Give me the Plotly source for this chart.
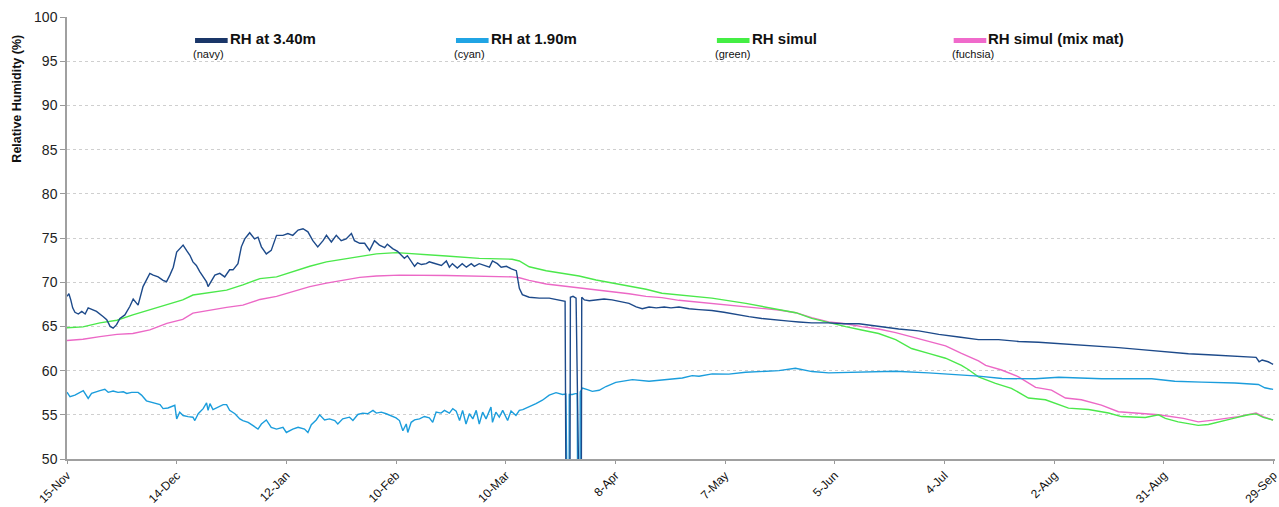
import pandas as pd
import plotly.graph_objects as go

START = "2011-11-15"

# ---- data (day offset from 15-Nov, RH %) ----
navy_day = [0, 0.5, 1.0, 1.5, 2.1, 3.0, 3.9, 4.8, 5.6, 6.5, 7.8, 9.6, 10.5, 11.4, 12.2, 13.1, 14.0, 15.3,
            16.6, 17.5, 18.8, 20.1, 21.9, 22.8, 24.1, 25.4, 26.3, 27.2, 28.1, 29.0, 29.8, 30.7, 31.6, 32.5,
            33.3, 34.2, 35.1, 36.0, 36.9, 37.3, 38.2, 39.1, 40.4, 41.7, 43.0, 43.9, 45.2, 46.1, 47.0, 48.3,
            49.6, 50.5, 51.4, 52.7, 54.0, 55.4, 57.1, 58.4, 59.7, 61.1, 62.4, 63.7, 65.0, 66.3, 67.7, 68.6,
            69.9, 71.2, 72.5, 73.8, 75.2, 76.0, 77.4, 78.7, 80.0, 81.3, 82.6, 84.0, 84.7, 86.1, 87.4, 88.4,
            89.2, 90.0, 91.1, 91.9, 92.7, 93.7, 95.0, 95.8, 96.6, 97.7, 99.0, 100.3, 101.1, 101.9, 103.2,
            104.5, 105.6, 106.9, 107.7, 109.0, 110.4, 111.7, 112.5, 113.8, 114.8, 116.2, 117.5, 118.8, 119.6,
            120.4, 122.2, 124.9, 127.5, 130.2, 131.7, 132.1, 132.9, 133.1, 133.8, 134.6, 135.0, 135.9, 136.1,
            136.8, 138.1, 139.9, 142.0, 144.1, 146.0, 148.6, 150.5, 152.1, 153.9, 155.8, 157.9, 159.7, 161.8,
            164.5, 167.1, 170.5, 173.7, 177.1, 180.3, 183.7, 186.9, 190.9, 193.5, 196.9, 201.4, 205.4, 209.4,
            214.6, 219.9, 225.2, 230.5, 235.8, 241.0, 246.3, 251.6, 256.9, 260.8, 264.8, 268.8, 272.7, 278.0,
            283.3, 288.6, 291.2, 296.5, 301.8, 307.0, 312.3, 314.4, 315.2, 316.0, 317.6, 318.9]
navy_rh = [68.4, 68.7, 68.0, 67.1, 66.6, 66.4, 66.7, 66.4, 67.1, 66.9, 66.7, 66.1, 65.75, 65.0, 64.8, 65.2, 65.9, 66.3,
           67.25, 68.1, 67.4, 69.5, 71.0, 70.8, 70.6, 70.2, 70.05, 70.8, 71.7, 73.4, 73.8, 74.2, 73.6, 73.05,
           72.3, 71.9, 71.2, 70.6, 70.05, 69.5, 70.2, 70.8, 71.0, 70.6, 71.4, 71.4, 72.1, 74.0, 74.9, 75.6,
           74.9, 75.1, 74.0, 73.2, 73.6, 75.3, 75.3, 75.5, 75.3, 75.9, 76.05, 75.7, 74.7, 74.0, 74.7, 75.3,
           74.55, 75.3, 74.7, 74.9, 75.5, 74.7, 74.4, 74.4, 73.6, 74.7, 74.2, 73.9, 74.3, 73.8, 73.5, 73.1,
           72.7, 73.0, 72.3, 71.8, 72.2, 72.0, 72.1, 72.3, 72.2, 72.1, 71.9, 72.4, 71.7, 72.1, 71.6,
           72.1, 71.7, 72.1, 71.8, 72.1, 71.9, 71.7, 72.4, 72.1, 71.7, 71.8, 71.5, 71.3, 69.3,
           68.6, 68.3, 68.2, 68.2, 68.0, 67.85, 30, 30, 68.3, 68.4, 68.2, 30, 30, 68.3,
           68.0, 67.9, 68.0, 68.1, 68.0, 67.8, 67.6, 67.2, 67.0, 67.2, 67.1, 67.2, 67.1, 67.2,
           67.0, 66.9, 66.8, 66.6, 66.3, 66.1, 65.9, 65.8, 65.6, 65.5, 65.4, 65.4, 65.3, 65.3,
           65.0, 64.7, 64.5, 64.1, 63.8, 63.5, 63.5, 63.3, 63.2, 63.1, 63.0, 62.9, 62.8, 62.6,
           62.4, 62.2, 62.1, 61.9, 61.8, 61.7, 61.6, 61.5, 61.0, 61.2, 61.0, 60.7]

cyan_day = [0, 0.8, 2.1, 3.0, 4.3, 5.6, 6.5, 8.7, 10.0, 10.9, 12.2, 13.5, 14.9, 15.8, 17.1, 18.8, 19.7, 21.0,
            22.8, 24.6, 25.4, 26.7, 28.5, 29.0, 29.8, 30.7, 32.0, 33.3, 33.8, 34.7, 36.0, 36.9, 37.3, 37.8,
            38.6, 39.9, 41.3, 42.2, 43.0, 44.4, 45.7, 46.5, 47.9, 49.2, 50.5, 51.4, 52.7, 54.0, 55.4, 57.1,
            58.0, 59.7, 61.1, 62.8, 63.7, 64.6, 65.9, 66.8, 68.1, 69.4, 70.8, 71.6, 72.9, 74.7, 75.6, 76.9,
            78.2, 79.5, 80.9, 81.8, 83.1, 84.4, 85.7, 87.0, 87.9, 88.8, 89.7, 90.1, 91.0, 91.9, 93.2, 94.5,
            95.8, 96.7, 97.6, 98.9, 99.8, 101.1, 102.0, 102.9, 103.8, 104.6, 105.5, 106.4, 107.3, 108.2,
            109.0, 109.9, 110.8, 112.1, 112.5, 113.4, 114.3, 115.2, 116.5, 117.4, 118.7, 119.6, 120.5, 122.2,
            124.0, 125.7, 127.5, 129.3, 131.0, 131.9, 132.3, 132.7, 132.8, 133.6, 134.4, 134.9, 135.2, 135.6,
            135.7, 136.3, 137.6, 138.9, 140.7, 142.5, 145.1, 149.5, 153.9, 158.3, 162.7, 165.3, 167.1, 170.6,
            175.0, 179.4, 188.2, 192.6, 197.0, 201.4, 210.2, 219.0, 227.8, 236.6, 241.0, 247.2, 256.0, 262.2,
            273.6, 286.8, 292.9, 300.0, 308.8, 315.0, 316.7, 318.9]
cyan_rh = [57.55, 57.04, 57.23, 57.42, 57.73, 56.85, 57.42, 57.73, 57.88, 57.54, 57.69, 57.54, 57.6, 57.42, 57.54, 57.54, 57.23, 56.58,
           56.35, 56.15, 55.7, 55.77, 56.08, 54.54, 55.3, 54.92, 54.8, 54.73, 54.35, 55.12, 55.7, 56.35, 55.5, 56.27,
           55.58, 55.88, 56.15, 56.15, 55.5, 55.12, 54.54, 54.35, 54.15, 53.77, 53.38, 53.96, 54.42, 53.58, 53.38, 53.58,
           53.0, 53.38, 53.58, 53.38, 53.0, 53.88, 54.42, 55.0, 54.42, 54.54, 54.35, 53.96, 54.54, 54.73, 54.35, 55.04,
           55.19, 55.12, 55.5, 55.19, 55.3, 55.12, 54.92, 54.65, 54.35, 53.19, 53.96, 53.0, 54.15, 54.42, 54.54, 54.81,
           54.65, 54.15, 55.3, 55.19, 55.5, 55.19, 55.7, 55.42, 54.35, 55.5, 53.96, 55.12, 54.54, 55.5,
           53.96, 55.3, 54.54, 55.88, 54.15, 55.3, 54.73, 55.5, 54.35, 55.42, 54.92, 55.5, 55.58, 55.88,
           56.27, 56.65, 57.23, 57.5, 57.3, 57.35, 30, 30, 57.3, 57.3, 57.4, 57.4, 30, 30,
           57.6, 58.03, 57.84, 57.65, 57.77, 58.2, 58.67, 58.98, 58.8, 58.98, 59.17, 59.43, 59.36, 59.63,
           59.6, 59.81, 60.0, 60.26, 59.89, 59.74, 59.81, 59.93, 59.74, 59.52, 59.37, 59.1, 59.07, 59.25,
           59.07, 59.07, 58.8, 58.7, 58.6, 58.43, 58.06, 57.87]

green_day = [0, 4.2, 8.7, 13.2, 17.4, 21.9, 26.4, 30.6, 33.3, 37.8, 42.2, 46.5, 51.0, 55.4, 59.7, 64.2, 68.6, 72.9,
             77.4, 81.8, 87.1, 91.3, 100.3, 109.0, 117.7, 119.6, 122.2, 126.7, 130.9, 135.4, 139.9, 144.1, 148.6,
             153.1, 157.3, 161.8, 170.5, 179.5, 188.2, 192.7, 196.9, 201.4, 205.9, 210.1, 214.6, 219.1, 223.3,
             227.8, 232.3, 236.5, 238.4, 241.0, 245.5, 249.7, 254.2, 258.7, 261.4, 264.8, 270.1, 275.4, 278.8,
             285.1, 288.6, 290.4, 293.8, 299.1, 301.8, 304.4, 308.4, 312.3, 314.4, 316.3, 318.9]
green_rh = [64.85, 64.95, 65.4, 65.7, 66.3, 66.85, 67.4, 68.0, 68.55, 68.8, 69.1, 69.7, 70.4, 70.6, 71.2, 71.8, 72.3, 72.6,
            72.9, 73.2, 73.34, 73.2, 72.96, 72.7, 72.6, 72.4, 71.75, 71.3, 71.0, 70.7, 70.25, 69.9, 69.5,
            69.2, 68.75, 68.55, 68.2, 67.6, 66.9, 66.55, 65.9, 65.4, 64.97, 64.6, 64.2, 63.5, 62.5,
            61.95, 61.4, 60.6, 60.1, 59.3, 58.56, 58.0, 56.9, 56.7, 56.3, 55.75, 55.6, 55.2, 54.8,
            54.7, 55.0, 54.6, 54.2, 53.8, 53.9, 54.2, 54.6, 55.0, 55.1, 54.7, 54.4]

pink_day = [0, 4.2, 8.7, 13.2, 17.4, 21.9, 26.4, 30.6, 33.3, 37.8, 42.2, 46.5, 51.0, 55.4, 59.7, 64.2, 68.6, 72.9,
            77.4, 81.8, 87.9, 100.3, 109.0, 117.7, 119.6, 122.2, 126.7, 130.9, 135.4, 139.9, 144.1, 148.6,
            153.1, 157.3, 161.8, 170.5, 179.5, 188.2, 192.7, 196.9, 201.4, 205.9, 210.1, 214.6, 219.1, 223.3,
            227.8, 232.3, 236.5, 241.0, 242.9, 247.1, 251.6, 256.1, 260.3, 264.0, 268.2, 273.5, 278.0, 282.5,
            288.6, 295.2, 299.1, 303.1, 309.7, 314.4, 316.3, 318.9]
pink_rh = [63.4, 63.55, 63.85, 64.1, 64.2, 64.6, 65.35, 65.8, 66.5, 66.85, 67.15, 67.4, 68.05, 68.4, 68.9, 69.5, 69.9, 70.2,
           70.55, 70.7, 70.8, 70.75, 70.7, 70.6, 70.5, 70.2, 69.8, 69.6, 69.3, 69.1, 68.9, 68.7,
           68.4, 68.25, 67.95, 67.6, 67.2, 66.85, 66.55, 66.0, 65.5, 65.3, 64.97, 64.7, 64.3, 63.85,
           63.3, 62.8, 61.95, 61.1, 60.6, 60.07, 59.3, 58.1, 57.8, 56.9, 56.7, 56.1, 55.35, 55.2,
           55.0, 54.6, 54.2, 54.4, 54.8, 55.2, 54.8, 54.4]

series_names = ["RH at 3.40m", "RH at 1.90m", "RH simul", "RH simul (mix mat)"]
series_notes = ["(navy)", "(cyan)", "(green)", "(fuchsia)"]
y_ticks = [50, 55, 60, 65, 70, 75, 80, 85, 90, 95, 100]

line_colors = ["#1d4a8a", "#1b9ddc", "#4be84b", "#ec68c6"]
swatch_colors = ["#1a3668", "#20a4e4", "#44ee44", "#f06acb"]


def to_dates(days):
    return pd.Timestamp(START) + pd.to_timedelta(days, unit="D")


fig = go.Figure()
for days, vals, name, col in [
    (pink_day, pink_rh, series_names[3], line_colors[3]),
    (green_day, green_rh, series_names[2], line_colors[2]),
    (cyan_day, cyan_rh, series_names[1], line_colors[1]),
    (navy_day, navy_rh, series_names[0], line_colors[0]),
]:
    fig.add_trace(go.Scatter(x=to_dates(days), y=vals, mode="lines", name=name,
                             line=dict(color=col, width=1.4), showlegend=False))

FONT = "Liberation Sans, Arial, sans-serif"

# custom legend (line swatch + bold label + small colour note)
leg_x = [0.106, 0.322, 0.538, 0.734]
sw_w = 0.027
for i in range(4):
    x0 = leg_x[i]
    fig.add_shape(type="line", xref="paper", yref="paper", x0=x0, x1=x0 + sw_w, y0=0.947, y1=0.947,
                  line=dict(color=swatch_colors[i], width=5))
    fig.add_annotation(xref="paper", yref="paper", x=x0 + sw_w, y=0.952, xanchor="left", yanchor="middle",
                       text="<b>" + series_names[i] + "</b>", showarrow=False,
                       font=dict(family=FONT, size=15, color="#111"))
    fig.add_annotation(xref="paper", yref="paper", x=x0 - 0.003, y=0.916, xanchor="left", yanchor="middle",
                       text=series_notes[i], showarrow=False,
                       font=dict(family=FONT, size=11, color="#111"))

fig.add_annotation(xref="paper", yref="paper", x=-0.0415, y=0.815, xanchor="center", yanchor="middle",
                   text="<b>Relative Humidity (%)</b>", textangle=-90, showarrow=False,
                   font=dict(family=FONT, size=12.5, color="#111"))

fig.update_layout(
    width=1279, height=507,
    margin=dict(l=67, r=4, t=17, b=48),
    paper_bgcolor="white", plot_bgcolor="white",
    template="none",
    font=dict(family=FONT, color="#111"),
    xaxis=dict(
        type="date",
        range=[to_dates(0), to_dates(319.4)],
        tick0=to_dates(0), dtick=29 * 86400000,
        tickformat="%-d-%b", tickangle=-45,
        ticks="outside", ticklen=3, tickcolor="#999",
        showline=True, linecolor="#a0a0a0", linewidth=1.5,
        showgrid=False, zeroline=False, automargin=False,
        ticklabeloverflow="allow",
        tickfont=dict(family=FONT, size=12, color="#111"),
    ),
    yaxis=dict(
        range=[50, 100], tickvals=y_ticks,
        ticks="outside", ticklen=5, tickcolor="#999",
        showline=True, linecolor="#a0a0a0", linewidth=1.5,
        showgrid=True, gridcolor="#cfcfcf", griddash="dot", gridwidth=1,
        zeroline=False, automargin=False,
        tickfont=dict(family=FONT, size=14, color="#222"),
    ),
)

fig.write_html("out.html", config={"displayModeBar": False},
               post_script="document.body.style.margin='0';document.body.style.overflow='hidden';")
